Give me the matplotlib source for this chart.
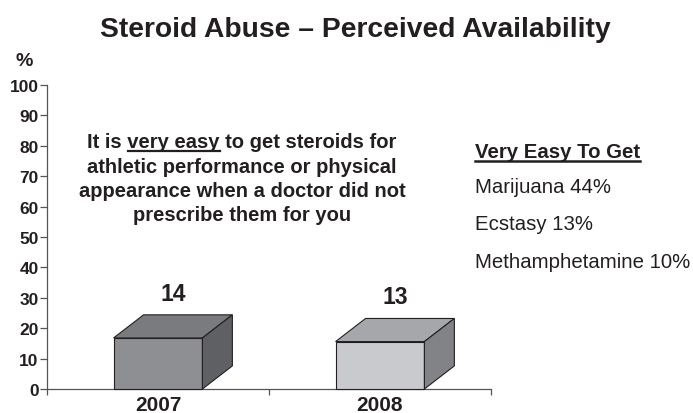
import matplotlib
matplotlib.use('Agg')
import matplotlib.pyplot as plt
from matplotlib.patches import Polygon
from matplotlib.font_manager import FontProperties

# -------------------------------
# Data
# -------------------------------
years = ['2007', '2008']
pct_very_easy = [14, 13]
other_drugs = ['Marijuana', 'Ecstasy', 'Methamphetamine']
other_pct = [44, 13, 10]
y_ticks = list(range(0, 101, 10))

# -------------------------------
# Style
# -------------------------------
plt.rcParams['font.family'] = ['Liberation Sans', 'DejaVu Sans']
ink = '#231f20'
face_colors = [('#8e8f93', '#7a7b7e', '#5f6064'),   # front, top, side
               ('#c9cacd', '#a6a7aa', '#828386')]
bar_w = 0.4
depth_x = 0.135
depth_y = 7.6
bar_scale = 1.2   # 3D perspective makes boxes look taller than the value

W, H = 693, 414
fig = plt.figure(figsize=(W / 100, H / 100), dpi=100)
ax = fig.add_axes([47 / W, 24 / H, 444 / W, 304 / H])
ax.set_xlim(0, 2)
ax.set_ylim(0, 100)

# -------------------------------
# 3D-looking boxes
# -------------------------------
for i, (yr, v) in enumerate(zip(years, pct_very_easy)):
    cx = i + 0.5
    x0, x1 = cx - bar_w / 2, cx + bar_w / 2
    h = v * bar_scale
    front, top, side = face_colors[i]
    ax.add_patch(Polygon([(x0, 0), (x1, 0), (x1, h), (x0, h)], closed=True,
                         facecolor=front, edgecolor=ink, lw=0.8, clip_on=False, zorder=3))
    ax.add_patch(Polygon([(x0, h), (x1, h), (x1 + depth_x, h + depth_y), (x0 + depth_x, h + depth_y)],
                         closed=True, facecolor=top, edgecolor=ink, lw=0.8, clip_on=False, zorder=3))
    ax.add_patch(Polygon([(x1, 0), (x1 + depth_x, depth_y), (x1 + depth_x, h + depth_y), (x1, h)],
                         closed=True, facecolor=side, edgecolor=ink, lw=0.8, clip_on=False, zorder=3))
    ax.text(cx + depth_x / 2, h + depth_y + 3.3, str(v), ha='center', va='bottom',
            fontsize=16.5, fontweight='bold', color=ink)

# -------------------------------
# Axes styling
# -------------------------------
for s in ['top', 'right']:
    ax.spines[s].set_visible(False)
for s in ['left', 'bottom']:
    ax.spines[s].set_color('#555555')
    ax.spines[s].set_linewidth(0.9)

ax.set_yticks(y_ticks)
ax.set_yticklabels([str(t) for t in y_ticks], fontsize=12.5, fontweight='bold', color=ink)
ax.tick_params(axis='y', length=5, width=0.9, color='#555555', pad=1)

ax.set_xticks([0.5, 1.5])
ax.set_xticklabels(years, fontsize=15, fontweight='bold', color=ink)
ax.tick_params(axis='x', which='major', length=0, pad=4)
ax.set_xticks([0, 1, 2], minor=True)
ax.tick_params(axis='x', which='minor', length=4, width=0.9, color='#555555')

# -------------------------------
# Texts
# -------------------------------
fig.text(355 / W, 1 - 30 / H, 'Steroid Abuse \u2013 Perceived Availability', ha='center', va='center',
         fontsize=20.3, fontweight='bold', color=ink)
fig.text(24 / W, 1 - 62 / H, '%', ha='center', va='center', fontsize=14, fontweight='bold', color=ink)

note = ['It is very easy to get steroids for',
        'athletic performance or physical',
        'appearance when a doctor did not',
        'prescribe them for you']
note_size = 14.5
note_texts = []
for k, line in enumerate(note):
    note_texts.append(fig.text(242 / W, 1 - (143 + 24.3 * k) / H, line, ha='center', va='center',
                               fontsize=note_size, fontweight='bold', color=ink))

# underline "very easy" in the first line
fig.canvas.draw()
r = fig.canvas.get_renderer()
fp = FontProperties(family='Liberation Sans', weight='bold', size=note_size)
def text_w(s):
    return r.get_text_width_height_descent(s, fp, ismath=False)[0]
bb = note_texts[0].get_window_extent(r)
ux0 = bb.x0 + text_w('It is ')
ux1 = bb.x0 + text_w('It is very easy')
uy = 1 - 152 / H
fig.add_artist(plt.Line2D([ux0 / W, ux1 / W], [uy, uy], color=ink, lw=1.6))

# list on the right
head = fig.text(475 / W, 1 - 152 / H, 'Very Easy To Get', ha='left', va='center',
                fontsize=14.7, fontweight='bold', color=ink)
hb = head.get_window_extent(r)
fig.add_artist(plt.Line2D([475 / W, (475 + hb.width) / W], [1 - 162 / H, 1 - 162 / H],
                          color=ink, lw=1.8))
for k, (d, p) in enumerate(zip(other_drugs, other_pct)):
    fig.text(475 / W, 1 - (188 + 37 * k) / H, f'{d} {p}%', ha='left', va='center',
             fontsize=14.7, color=ink)

fig.savefig('out.png', dpi=100)
